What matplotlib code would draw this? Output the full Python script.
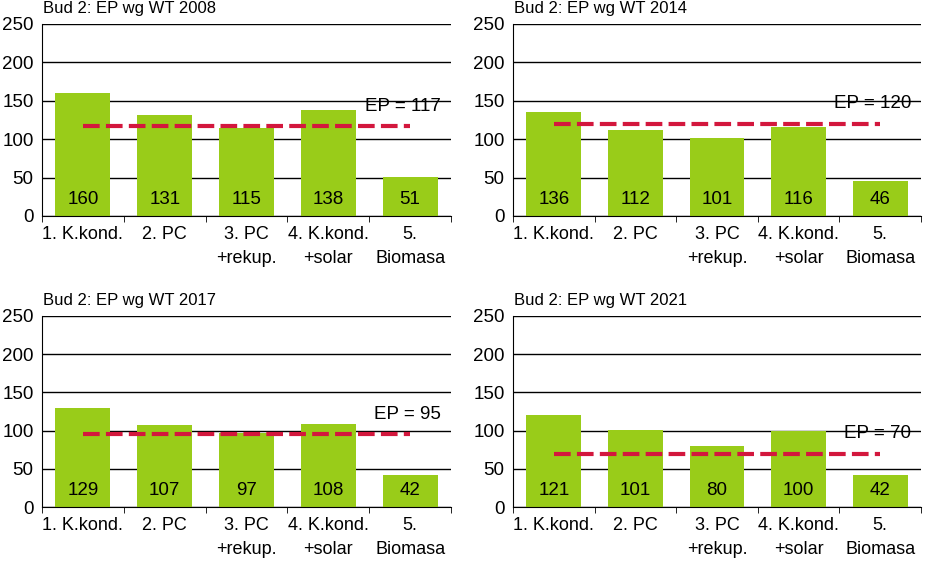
import numpy as np
import matplotlib.pyplot as plt

plt.rcParams['font.family'] = ['Liberation Sans', 'DejaVu Sans']

# === DATI =====================================================================
categorie = ["1. K.kond.", "2. PC", "3. PC\n+rekup.", "4. K.kond.\n+solar", "5.\nBiomasa"]
titoli = ["Bud 2: EP wg WT 2008", "Bud 2: EP wg WT 2014",
          "Bud 2: EP wg WT 2017", "Bud 2: EP wg WT 2021"]
valori_2008 = [160, 131, 115, 138, 51]
valori_2014 = [136, 112, 101, 116, 46]
valori_2017 = [129, 107, 97, 108, 42]
valori_2021 = [121, 101, 80, 100, 42]
ep_limiti = [117, 120, 95, 70]
# ==============================================================================

serie = [valori_2008, valori_2014, valori_2017, valori_2021]
verde = "#99cc19"
rosso = "#d3173d"

fig = plt.figure(figsize=(9.25, 5.61), dpi=100)
posizioni = [
    (42 / 925, 345 / 561, 409 / 925, 192 / 561),
    (513 / 925, 345 / 561, 408 / 925, 192 / 561),
    (42 / 925, 54 / 561, 409 / 925, 191 / 561),
    (513 / 925, 54 / 561, 408 / 925, 191 / 561),
]

for pos, titolo, vals, ep in zip(posizioni, titoli, serie, ep_limiti):
    ax = fig.add_axes(pos)
    x = np.arange(len(categorie))
    ax.bar(x, vals, width=0.67, color=verde, zorder=2)
    for xi, v in zip(x, vals):
        ax.text(xi, 22, str(v), ha="center", va="center", fontsize=13.5, zorder=4)
    ax.plot([x[0], x[-1]], [ep, ep], color=rosso, lw=3.0, dashes=(4.0, 1.5), zorder=3)
    ax.text(4.38, ep + 26, f"EP = {ep}", ha="right", va="center", fontsize=13.5, zorder=4)

    ax.set_xlim(-0.5, 4.5)
    ax.set_ylim(0, 250)
    ax.set_yticks(range(0, 251, 50))
    ax.yaxis.grid(True, color="black", lw=1.0, zorder=1)
    ax.set_axisbelow(True)
    for s in ["top", "right"]:
        ax.spines[s].set_visible(False)
    ax.tick_params(axis="y", length=0, labelsize=13.5, pad=6)
    ax.set_xticks(x)
    ax.set_xticklabels(categorie, fontsize=13, linespacing=1.55)
    ax.tick_params(axis="x", which="major", length=0, pad=7)
    ax.set_xticks(np.arange(-0.5, 5, 1), minor=True)
    ax.tick_params(axis="x", which="minor", length=4, direction="out")
    ax.annotate(titolo, xy=(0, 1), xycoords="axes fraction", xytext=(1, 11.5),
                textcoords="offset points", ha="left", va="center", fontsize=12)

fig.savefig("out.png", dpi=100)
